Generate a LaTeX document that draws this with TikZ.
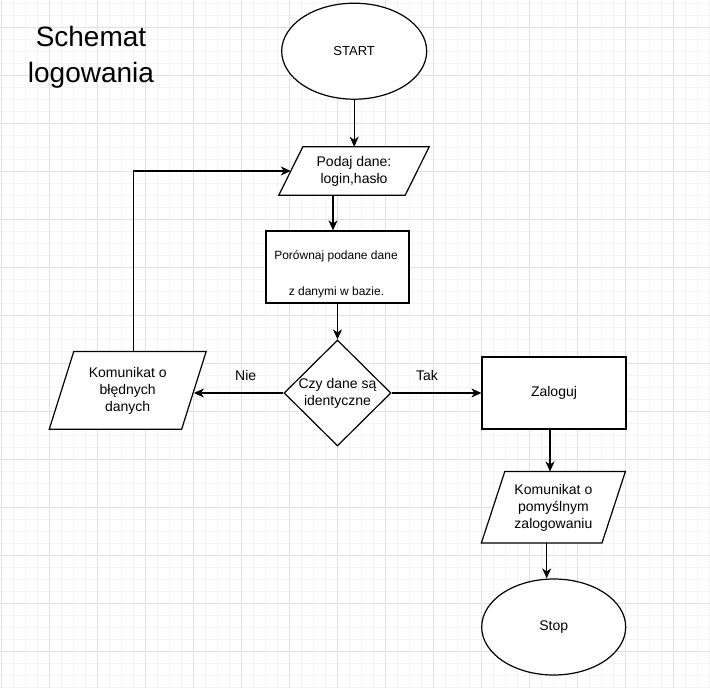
\documentclass[tikz,border=0pt]{standalone}
\usepackage{fontspec}
\setmainfont{Liberation Sans}
\usetikzlibrary{arrows.meta,shapes.geometric,calc}
\definecolor{gridminor}{HTML}{F4F4F4}
\definecolor{gridmajor}{HTML}{E0E0E0}
\newcommand\drawpara[2]{%
  \draw[shapeline] ([xshift=#2pt]#1.north west) -- ([xshift=#2pt]#1.north east)
    -- ([xshift=-#2pt]#1.south east) -- ([xshift=-#2pt]#1.south west) -- cycle;}
\begin{document}
\begin{tikzpicture}[x=1pt,y=-1pt,
  shapeline/.style={draw=black,line width=1.2pt,fill=white},
  ellbox/.style={ellipse,shapeline,minimum width=145pt,minimum height=96pt,inner sep=0pt},
  rectbox/.style={rectangle,shapeline,minimum width=#1,inner sep=0pt},
  parabox/.style={rectangle,inner sep=0pt,align=center},
  diabox/.style={diamond,shapeline,minimum width=107pt,minimum height=106pt,inner sep=0pt,align=center},
  txt/.style={font=\fontsize{14}{17}\selectfont,align=center,inner sep=0pt},
  arr/.style={draw=black,line width=1.2pt,-{Stealth[length=10pt,width=9pt,inset=3pt]}}]
\useasboundingbox (0,0) rectangle (710,688);
\fill[white] (0,0) rectangle (710,688);
% grid
\foreach \x in {1,13,...,709} \draw[gridminor,line width=1pt] (\x,0) -- (\x,688);
\foreach \y in {3,15,...,687} \draw[gridminor,line width=1pt] (0,\y) -- (710,\y);
\foreach \x in {1,49,...,709} \draw[gridmajor,line width=1pt] (\x,0) -- (\x,688);
\foreach \y in {27,75,...,687} \draw[gridmajor,line width=1pt] (0,\y) -- (710,\y);
% title
\node[anchor=base,inner sep=0pt,font=\fontsize{28}{34}\selectfont] (title1) at (91,46.5) {Schemat};
\node[anchor=base,inner sep=0pt,font=\fontsize{28}{34}\selectfont] (title2) at (91,82) {logowania};
% start
\node[ellbox,font=\fontsize{13}{16}\selectfont] (start) at (354.2,51.2) {START};
% podaj dane
\node[parabox,minimum width=126pt,minimum height=48pt] (podaj) at (354,171) {};
\drawpara{podaj}{12}
\node[txt] (podajt) at (354,171) {Podaj dane:\\login,hasło};
% porownaj
\node[rectbox=143pt,minimum height=72pt] (cmp) at (337.5,267) {};
\node[txt,font=\fontsize{12}{14}\selectfont] (cmpt1) at (336,256) {Porównaj podane dane};
\node[txt,font=\fontsize{12}{14}\selectfont] (cmpt2) at (336.5,292) {z danymi w bazie.};
% diamond
\node[diabox] (dia) at (337.5,393) {};
\node[txt] (diat) at (337.5,393) {Czy dane są\\identyczne};
% komunikat bledny
\node[parabox,minimum width=132pt,minimum height=77.3pt] (kom1) at (127.7,390.4) {};
\drawpara{kom1}{12.25}
\node[txt] (kom1t) at (127.7,391) {Komunikat o\\błędnych\\danych};
% zaloguj
\node[rectbox=144pt,minimum height=72pt,font=\fontsize{14}{17}\selectfont] (zal) at (554,393) {Zaloguj};
% komunikat pomyslny
\node[parabox,minimum width=120.2pt,minimum height=71pt] (kom2) at (553.4,507.2) {};
\drawpara{kom2}{11.7}
\node[txt] (kom2t) at (553.4,507.5) {Komunikat o\\pomyślnym\\zalogowaniu};
% stop
\node[ellbox,minimum width=144pt,font=\fontsize{14}{17}\selectfont] (stop) at (553.7,627) {Stop};
% connectors
\draw[arr] (start.south) -- (start.south |- podaj.north);
\draw[arr] ([xshift=-4.5pt]cmp.north |- podaj.south) -- ([xshift=-4.5pt]cmp.north);
\draw[arr] (cmp.south) -- (dia.north);
\draw[arr] (dia.west) -- (dia.west -| kom1.east);
\node[txt] (nie) at (245.7,375) {Nie};
\draw[arr] ([xshift=5.6pt]kom1.north) |- (podaj.west);
\draw[arr] (dia.east) -- (zal.west);
\node[txt] (tak) at (427,375) {Tak};
\draw[arr] ([xshift=-4pt]zal.south) -- ([xshift=-4pt]zal.south |- kom2.north);
\draw[arr] ([xshift=-6.7pt]kom2.south) -- ([xshift=-6.7pt]kom2.south |- stop.north);
\end{tikzpicture}
\end{document}
